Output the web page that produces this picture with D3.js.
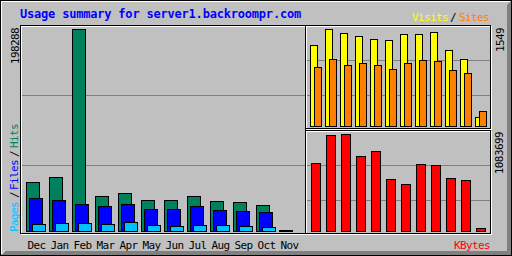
<!DOCTYPE html>
<html><head><meta charset="utf-8">
<script src="https://cdn.jsdelivr.net/npm/d3@7"></script>
<style>
html,body{margin:0;padding:0;background:#c0c0c0;}
svg{display:block;}
text{font-family:"DejaVu Sans Mono","Liberation Mono",monospace;}
</style></head><body>
<svg id="c" width="512" height="256"></svg>
<script>
const title = "Usage summary for server1.backroompr.com";
const months = ["Dec","Jan","Feb","Mar","Apr","May","Jun","Jul","Aug","Sep","Oct","Nov"];
const hits   = [48900, 53800, 198288, 35200, 38200, 31300, 31300, 35200, 30300, 29300, 26400, 1900];
const files  = [33300, 31300, 27400, 25400, 27400, 22500, 22500, 25400, 21500, 20500, 19600, 1000];
const pages  = [7800, 8800, 8800, 7800, 9800, 6800, 5900, 6800, 6800, 5900, 4900, 600];
const visits = [1301, 1549, 1486, 1443, 1396, 1380, 1475, 1475, 1506, 1217, 1075, 158];
const sites  = [948, 1075, 980, 1016, 980, 917, 1016, 1059, 1043, 901, 853, 258];
const kbytes = [760700, 1069400, 1083699, 837900, 893000, 584300, 529200, 749700, 738600, 595300, 573300, 44100];

const C = {grey:"#c0c0c0", dk:"#808080", white:"#ffffff", black:"#000000",
  hits:"#00805c", files:"#0000ff", pages:"#00c0ff", visits:"#ffff00", sites:"#ff8000", kb:"#ff0000", title:"#0000ff"};

const svg = d3.select("#c");
svg.append("rect").attr("width",512).attr("height",256).attr("fill",C.grey);
// bevel
svg.append("path").attr("d","M511 1 L511 255 L1 255 L5 251 L507 251 L507 5 Z").attr("fill",C.dk);
svg.append("path").attr("d","M1 1 L510 1 L510 2 L2 2 L2 254 L1 254 Z").attr("fill",C.white);
svg.append("line").attr("x1",1.5).attr("y1",254).attr("x2",5).attr("y2",250.5).attr("stroke",C.white).attr("stroke-width",1);
svg.append("rect").attr("x",0.5).attr("y",0.5).attr("width",511).attr("height",255).attr("fill","none").attr("stroke",C.black);

// scales
const xL = d3.scaleBand().domain(months).range([26, 26 + 23*12]);
const yH = d3.scaleLinear().domain([0, d3.max(hits)]).range([232, 29]);
const xR = d3.scaleBand().domain(months).range([310, 310 + 15*12]);
const yV = d3.scaleLinear().domain([0, d3.max(visits)]).range([127, 29]);
const yK = d3.scaleLinear().domain([0, d3.max(kbytes)]).range([232, 134]);

// grid lines
function hline(y, x0, x1){
  svg.append("line").attr("x1",x0).attr("x2",x1).attr("y1",y+0.5).attr("y2",y+0.5)
    .attr("stroke",C.dk).attr("stroke-width",1);
}
hline(95,21,305); hline(165,21,305);
hline(60,306,490); hline(95,306,490);
hline(165,306,490); hline(200,306,490);

function bars(vals, xs, dx, w, ys, base, color){
  svg.append("g").selectAll("rect").data(vals).join("rect")
    .attr("x",(d,i)=>xs(months[i]) + dx + 0.5)
    .attr("y",d=>Math.round(ys(d)) + 0.5)
    .attr("width",w)
    .attr("height",d=>Math.max(0, base - Math.round(ys(d)) - 1))
    .attr("fill",color).attr("stroke",C.black).attr("stroke-width",1);
}
bars(hits, xL, 0, 13, yH, 232, C.hits);
bars(files, xL, 3, 13, yH, 232, C.files);
bars(pages, xL, 6, 13, yH, 232, C.pages);
bars(visits, xR, 0, 7, yV, 127, C.visits);
bars(sites, xR, 4, 7, yV, 127, C.sites);
bars(kbytes, xR, 1, 9, yK, 232, C.kb);

// boxes
function box(x0,y0,x1,y1){
  svg.append("rect").attr("x",x0+1.5).attr("y",y0+1.5).attr("width",x1-x0).attr("height",y1-y0)
    .attr("fill","none").attr("stroke",C.white);
  svg.append("rect").attr("x",x0+0.5).attr("y",y0+0.5).attr("width",x1-x0).attr("height",y1-y0)
    .attr("fill","none").attr("stroke",C.black);
}
box(20,25,305,233);
box(305,25,490,128);
box(305,130,490,233);

// texts
svg.append("text").attr("x",20).attr("y",18).attr("font-size","12px").attr("letter-spacing","-0.2px").attr("font-weight","bold")
  .attr("fill",C.title).text(title);

const FS = "11px", LS = "-0.6px";
function txt(x,y,s,color,anchor){
  return svg.append("text").attr("x",x).attr("y",y).attr("font-size",FS).attr("letter-spacing",LS)
    .attr("fill",color).attr("text-anchor",anchor||"start").text(s);
}
function up(x,y,s,color,anchor){
  return svg.append("text").attr("transform",`translate(${x},${y}) rotate(-90)`).attr("font-size",FS)
    .attr("letter-spacing",LS).attr("fill",color).attr("text-anchor",anchor||"start").text(s);
}
txt(412,20.5,"Visits",C.visits);
txt(450,20.5,"/",C.black);
txt(459,20.5,"Sites",C.sites);
txt(454,248.5,"KBytes",C.kb);

svg.append("g").selectAll("text").data(months).join("text")
  .attr("x",d=>xL(d)+1.5).attr("y",248.5).attr("font-size",FS).attr("letter-spacing",LS)
  .attr("fill",C.black).text(d=>d);

up(19,28,String(d3.max(hits)),C.black,"end");
up(504,28,String(d3.max(visits)),C.black,"end");
up(503,132,String(d3.max(kbytes)),C.black,"end");

up(18,232,"Pages",C.pages);
up(18,198,"/",C.black);
up(18,190,"Files",C.files);
up(18,157,"/",C.black);
up(18,148,"Hits",C.hits);
</script>
</body></html>
